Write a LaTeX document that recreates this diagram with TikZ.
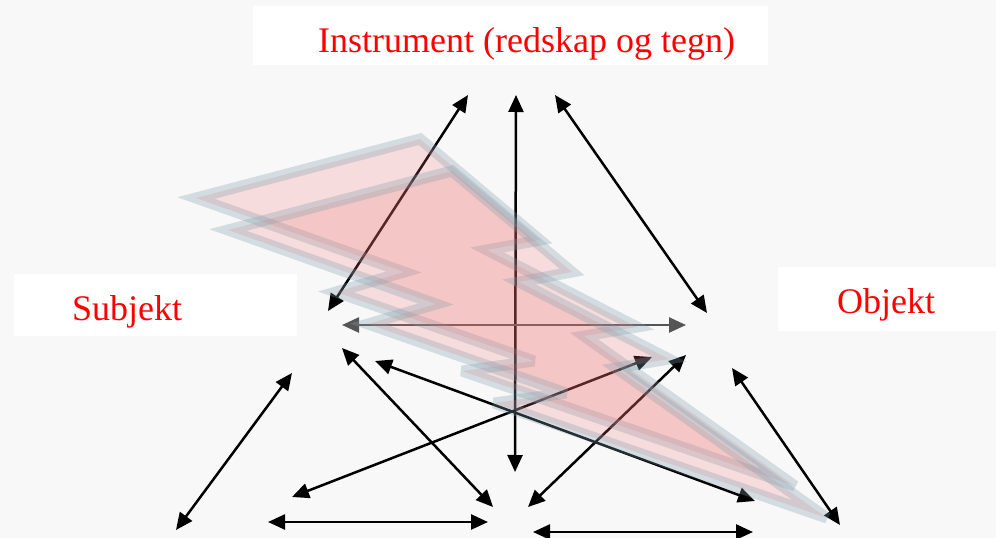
\documentclass[tikz,border=0pt]{standalone}
\usepackage{fontspec}
\setmainfont{Liberation Serif}
\usetikzlibrary{arrows.meta}
\definecolor{bg}{RGB}{248,248,248}
\definecolor{txtred}{RGB}{255,0,0}
\definecolor{boltfill}{RGB}{240,110,110}
\definecolor{boltline}{RGB}{127,160,174}
\definecolor{grayarrow}{RGB}{85,85,85}
\begin{document}
\begin{tikzpicture}[x=1pt,y=-1pt,
  box/.style={fill=white, draw=none, inner sep=0pt, anchor=north west},
  lbl/.style={text=txtred, font=\fontsize{36}{36}\selectfont, anchor=base west, inner sep=0pt},
  link/.style={line width=2.5pt, {Triangle[length=17pt,width=15pt]}-{Triangle[length=17pt,width=15pt]}},
  graylink/.style={link, draw=grayarrow},
  bolt/.style={fill=boltfill, fill opacity=0.2, draw=boltline, draw opacity=0.3, line width=11pt, miter limit=4}
]
\useasboundingbox (0,0) rectangle (996,538);
\fill[bg] (0,0) rectangle (996,538);

% boxes and labels
\node[box, minimum width=515pt, minimum height=59pt] (ibox) at (253,6) {};
\node[box, minimum width=283pt, minimum height=62pt] (sbox) at (14,274) {};
\node[box, minimum width=218pt, minimum height=64pt] (obox) at (778,267) {};
\node[lbl] (instr) at (318,52) {Instrument (redskap og tegn)};
\node[lbl] (subj) at (72,320) {Subjekt};
\node[lbl] (obj) at (837,313) {Objekt};

% arrow end points
\coordinate (i1) at (468,95);  \coordinate (s1) at (328,311);
\coordinate (i2) at (516,95);  \coordinate (m2) at (515,472);
\coordinate (i3) at (555,95);  \coordinate (o3) at (707,313);
\coordinate (s4) at (342,325); \coordinate (o4) at (686,325);
\coordinate (a5) at (292,373); \coordinate (b5) at (176,530);
\coordinate (a6) at (342,348); \coordinate (b6) at (493,507);
\coordinate (a7) at (375,361); \coordinate (b7) at (755,501);
\coordinate (a8) at (292,497); \coordinate (b8) at (652,357);
\coordinate (a9) at (528,507); \coordinate (b9) at (686,355);
\coordinate (a10) at (732,368); \coordinate (b10) at (840,525);
\coordinate (a11) at (268,522); \coordinate (b11) at (488,522);
\coordinate (a12) at (533,532); \coordinate (b12) at (753,532);

\draw[link] (i1) -- (s1);
\draw[link] (i2) -- (m2);
\draw[link] (i3) -- (o3);
\draw[graylink] (s4) -- (o4);
\draw[link] (a5) -- (b5);
\draw[link] (a6) -- (b6);
\draw[link] (a7) -- (b7);
\draw[link] (a8) -- (b8);
\draw[link] (a9) -- (b9);
\draw[link] (a10) -- (b10);
\draw[link] (a11) -- (b11);
\draw[link] (a12) -- (b12);

% lightning bolts
\path[bolt] (420,139) -- (196,198) -- (404,272) -- (336,292) -- (534,361) -- (462,371) -- (795,486) -- (584,336) -- (637,327) -- (487,250) -- (540,240) -- cycle;
\begin{scope}[shift={(32,32)}]
\path[bolt] (420,139) -- (196,198) -- (404,272) -- (336,292) -- (534,361) -- (462,371) -- (795,486) -- (584,336) -- (637,327) -- (487,250) -- (540,240) -- cycle;
\end{scope}
\end{tikzpicture}
\end{document}
